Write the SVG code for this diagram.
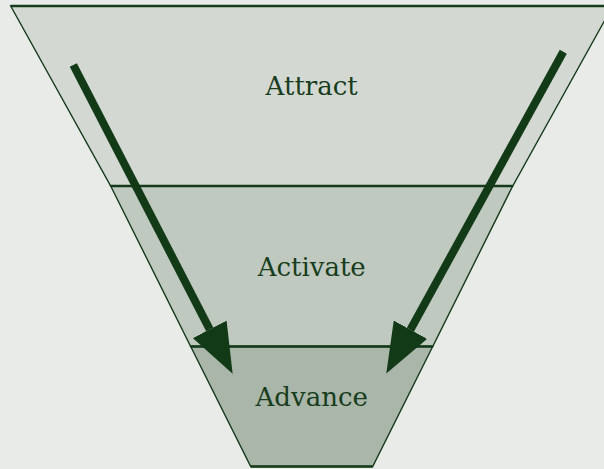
<svg xmlns="http://www.w3.org/2000/svg" width="604" height="469" viewBox="0 0 604 469">
<defs>
<style>
.layer{stroke:#163a1b;stroke-width:1.4;stroke-linejoin:miter}
.edge{stroke:#143a19;stroke-width:2.4;fill:none}
.lbl{font-family:"DejaVu Serif","Liberation Serif",serif;font-size:26px;fill:#173d1c;text-anchor:middle}
.arrow{stroke:#123a17;stroke-width:8;fill:none;stroke-linecap:butt}
</style>
<marker id="head" markerUnits="userSpaceOnUse" markerWidth="50" markerHeight="38" viewBox="0 0 50 38" refX="0" refY="19" orient="auto">
<path d="M0,0 L50,19 L0,38 Z" fill="#123a17"/>
</marker>
</defs>
<rect width="604" height="469" fill="#e9ebe8"/>
<g id="attract">
<polygon class="layer" points="10.7,6 612.7,6 512.7,186 110.7,186" fill="#d3d9d2"/>
<line class="edge" x1="10.7" y1="6" x2="612.7" y2="6"/>
<text class="lbl" x="311.7" y="95">Attract</text>
</g>
<g id="activate">
<polygon class="layer" points="110.7,186 512.7,186 432.7,346.5 190.7,346.5" fill="#bfc9bf"/>
<line class="edge" x1="110.7" y1="186" x2="512.7" y2="186"/>
<text class="lbl" x="311.7" y="276">Activate</text>
</g>
<g id="advance">
<polygon class="layer" points="190.7,346.5 432.7,346.5 372.7,466.5 250.7,466.5" fill="#a9b6a9"/>
<line class="edge" x1="190.7" y1="346.5" x2="432.7" y2="346.5"/>
<line class="edge" x1="250.7" y1="466.5" x2="372.7" y2="466.5"/>
<text class="lbl" x="311.7" y="406">Advance</text>
</g>
<g id="connectors">
<line class="arrow" x1="73.3" y1="65" x2="209.7" y2="329.3" marker-end="url(#head)"/>
<line class="arrow" x1="563.3" y1="51.7" x2="410.4" y2="329.7" marker-end="url(#head)"/>
</g>
</svg>
